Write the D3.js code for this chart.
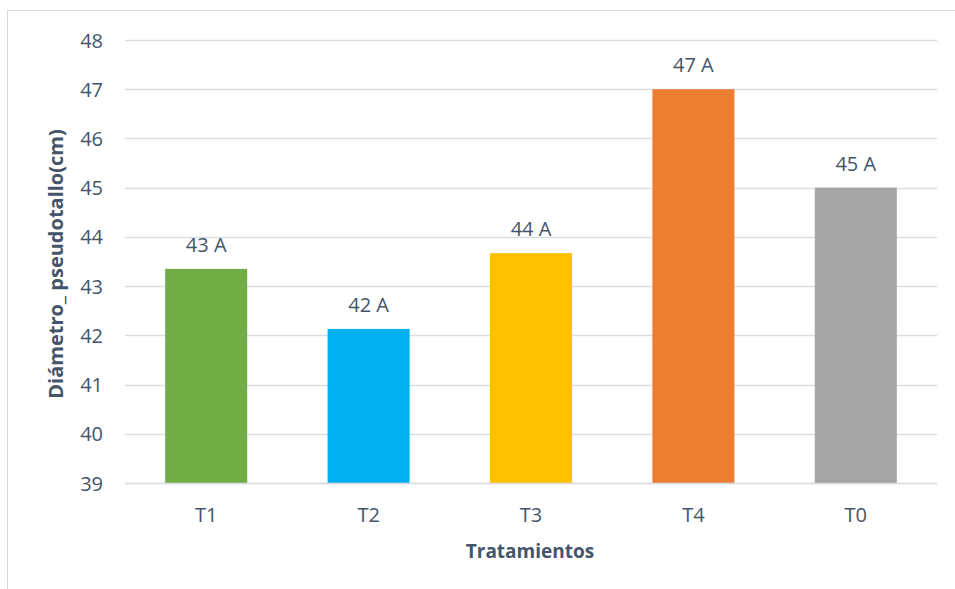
<!DOCTYPE html>
<html>
<head>
<meta charset="utf-8">
<script src="https://cdn.jsdelivr.net/npm/d3@7/dist/d3.min.js"></script>
<style>
  html, body { margin: 0; padding: 0; background: #fff; }
  svg { display: block; font-family: "Open Sans", "Noto Sans", sans-serif; }
</style>
</head>
<body>
<svg id="chart" width="955" height="589"></svg>
<script>
// Treatments and mean pseudostem diameter (cm)
const categories = ["T1", "T2", "T3", "T4", "T0"];
const values = [43.35, 42.13, 43.67, 47.0, 45.0];
const groups = ["A", "A", "A", "A", "A"];
const barColors = ["#70AD47", "#00B0F0", "#FFC000", "#ED7D31", "#A5A5A5"];
const yTicks = [39, 40, 41, 42, 43, 44, 45, 46, 47, 48];

const textColor = "#44546A";
const gridColor = "#DADEE4";

const svg = d3.select("#chart");
const W = 955, H = 589;
const margin = { left: 125, right: 18, top: 40, bottom: 106 };

// chart frame
svg.append("rect")
  .attr("x", 7.5).attr("y", 10.5)
  .attr("width", W + 10).attr("height", H + 10)
  .attr("fill", "none").attr("stroke", "#D9D9D9").attr("stroke-width", 1);

const x = d3.scaleBand()
  .domain(categories)
  .range([margin.left, W - margin.right])
  .paddingInner(0.495).paddingOuter(0.2475);

const y = d3.scaleLinear()
  .domain([39, 48])
  .range([H - margin.bottom, margin.top]);

// horizontal grid
svg.append("g")
  .selectAll("line")
  .data(yTicks)
  .join("line")
  .attr("x1", margin.left).attr("x2", W - margin.right)
  .attr("y1", d => Math.round(y(d)) + 0.5).attr("y2", d => Math.round(y(d)) + 0.5)
  .attr("stroke", gridColor).attr("stroke-width", 1.5);

// y axis labels
const yAxis = d3.axisLeft(y).tickValues(yTicks).tickSize(0).tickPadding(0);
const gy = svg.append("g")
  .attr("transform", `translate(${margin.left - 22},0)`)
  .call(yAxis);
gy.select(".domain").remove();
gy.selectAll("text")
  .attr("fill", textColor)
  .style("font-size", "20px")
  .style("font-family", "'Open Sans', sans-serif")
  .attr("dy", "0.35em");

// bars
svg.append("g")
  .selectAll("rect")
  .data(categories)
  .join("rect")
  .attr("x", d => x(d))
  .attr("width", x.bandwidth())
  .attr("y", (d, i) => y(values[i]))
  .attr("height", (d, i) => y(39) - y(values[i]))
  .attr("fill", (d, i) => barColors[i]);

// baseline
svg.append("line")
  .attr("x1", margin.left).attr("x2", W - margin.right)
  .attr("y1", Math.round(y(39)) + 0.5).attr("y2", Math.round(y(39)) + 0.5)
  .attr("stroke", gridColor).attr("stroke-width", 1.5);

// value labels
const fmt = d3.format(".0f");
svg.append("g")
  .selectAll("text")
  .data(categories)
  .join("text")
  .attr("x", d => x(d) + x.bandwidth() / 2)
  .attr("y", (d, i) => y(values[i]) - 17)
  .attr("text-anchor", "middle")
  .attr("fill", textColor)
  .style("font-size", "20px")
  .text((d, i) => `${fmt(values[i])} ${groups[i]}`);

// x axis labels
const xAxis = d3.axisBottom(x).tickSize(0).tickPadding(0);
const gx = svg.append("g")
  .attr("transform", `translate(0,${y(39)})`)
  .call(xAxis);
gx.select(".domain").remove();
gx.selectAll("text")
  .attr("fill", textColor)
  .style("font-size", "20px")
  .style("font-family", "'Open Sans', sans-serif")
  .attr("dy", null)
  .attr("y", 39);

// axis titles
svg.append("text")
  .attr("x", 530).attr("y", 558)
  .attr("text-anchor", "middle")
  .attr("fill", textColor)
  .style("font-size", "19px").style("font-weight", "bold")
  .text("Tratamientos");

svg.append("text")
  .attr("transform", "translate(63,264) rotate(-90)")
  .attr("text-anchor", "middle")
  .attr("fill", textColor)
  .style("font-size", "20px").style("font-weight", "bold")
  .text("Diámetro_ pseudotallo(cm)");
</script>
</body>
</html>
